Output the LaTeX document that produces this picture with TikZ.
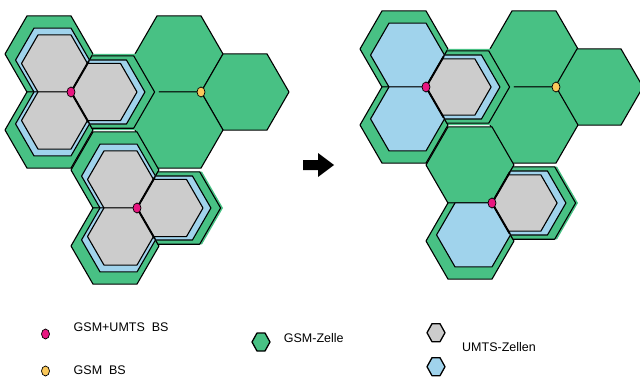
\documentclass[tikz,border=0pt]{standalone}
\usepackage{fontspec}
\setmainfont{Liberation Sans}
\usetikzlibrary{shapes.geometric}
\definecolor{gsmgreen}{RGB}{72,193,132}
\definecolor{umtsblue}{RGB}{160,211,236}
\definecolor{umtsgray}{RGB}{204,204,204}
\definecolor{bspink}{RGB}{232,22,128}
\definecolor{bsyellow}{RGB}{250,200,90}
\newcommand\hexat[3]{({(#1)+(#3)},{#2}) -- ({(#1)+0.5*(#3)},{(#2)+0.866*(#3)}) -- ({(#1)-0.5*(#3)},{(#2)+0.866*(#3)}) -- ({(#1)-(#3)},{#2}) -- ({(#1)-0.5*(#3)},{(#2)-0.866*(#3)}) -- ({(#1)+0.5*(#3)},{(#2)-0.866*(#3)}) -- cycle}
\newcommand\subhex[6]{%
  \pgfmathsetmacro\hcx{#4+#6*((#2)-(#4))}%
  \pgfmathsetmacro\hcy{#5+#6*((#3)-(#5))}%
  \pgfmathsetmacro\hrr{#6*44}%
  \path[#1] \hexat{\hcx}{\hcy}{\hrr};}
\newcommand\leghex[2]{({(#1)+9},{#2}) -- ({(#1)+4},{(#2)+9}) -- ({(#1)-4},{(#2)+9}) -- ({(#1)-9},{#2}) -- ({(#1)-4},{(#2)-9}) -- ({(#1)+4},{(#2)-9}) -- cycle}
\begin{document}
\begin{tikzpicture}[x=1pt,y=-1pt,
  cellgsm/.style={fill=gsmgreen,draw=black,line width=1.1pt,line join=round},
  cellfill/.style={fill=gsmgreen},
  cellblue/.style={fill=umtsblue,draw=black,line width=1.1pt,line join=round},
  cellgray/.style={fill=umtsgray,draw=black,line width=1.1pt,line join=round},
  ray/.style={line width=2pt,line cap=round},
  bs/.style={ellipse,draw=black,line width=0.7pt,minimum width=8pt,minimum height=10pt,inner sep=0pt},
  bsleg/.style={bs,minimum width=8pt,minimum height=10pt},
  leghexs/.style={draw=black,line width=1.3pt,line join=round},
  legtext/.style={anchor=west,font=\fontsize{12.5}{15}\selectfont,inner sep=0pt}]
\useasboundingbox (0,0) rectangle (640,380);
\clip (0,0) rectangle (640,380);

% ===== left diagram =====
% GSM-only cells
\path[cellgsm] \hexat{179}{54}{44};
\path[cellgsm] \hexat{245}{92}{44};
\path[cellgsm] \hexat{179}{130}{44};
% cluster A
\path[cellgsm] \hexat{49}{54}{44};
\path[cellfill] \hexat{115}{92}{44};
\path[cellgsm] \hexat{49}{130}{44};
\subhex{cellgsm}{115}{92}{71}{92}{0.95}
\subhex{cellblue}{49}{54}{71}{92}{0.84}
\subhex{cellblue}{115}{92}{71}{92}{0.84}
\subhex{cellblue}{49}{130}{71}{92}{0.84}
\subhex{cellgray}{49}{54}{71}{92}{0.75}
\subhex{cellgray}{115}{92}{71}{92}{0.75}
\subhex{cellgray}{49}{130}{71}{92}{0.75}
\coordinate (cA) at (71,92);
\draw[ray] (cA) -- ++(17.6,-30.4);
\draw[ray] (cA) -- ++(17.6,30.4);
% cluster B
\path[cellgsm] \hexat{115}{170}{44};
\path[cellfill] \hexat{181}{208}{42};
\path[cellgsm] \hexat{115}{246}{44};
\subhex{cellgsm}{181}{208}{137}{208}{0.95}
\subhex{cellblue}{115}{170}{137}{208}{0.84}
\subhex{cellblue}{181}{208}{137}{208}{0.84}
\subhex{cellblue}{115}{246}{137}{208}{0.84}
\subhex{cellgray}{115}{170}{137}{208}{0.75}
\subhex{cellgray}{181}{208}{137}{208}{0.75}
\subhex{cellgray}{115}{246}{137}{208}{0.75}
\coordinate (cB) at (137,208);
\draw[ray] (cB) -- ++(17.6,-30.4);
\draw[ray] (cB) -- ++(17.6,30.4);
\node[bs,fill=bspink] (bsA) at (cA) {};
\node[bs,fill=bspink] (bsB) at (cB) {};
\node[bs,fill=bsyellow] (bsG) at (201,92) {};

% ===== arrow =====
\fill[black] (303,160) -- (318,160) -- (318,153) -- (334,165) -- (318,177) -- (318,170) -- (303,170) -- cycle;

% ===== right diagram =====
\begin{scope}[shift={(355,-5)}]
\path[cellgsm] \hexat{179}{54}{44};
\path[cellgsm] \hexat{244}{92}{44};
\path[cellgsm] \hexat{179}{130}{44};
% cluster A'
\path[cellgsm] \hexat{49}{54}{44};
\path[cellfill] \hexat{115}{92}{44};
\path[cellgsm] \hexat{49}{130}{44};
\subhex{cellgsm}{115}{92}{71}{92}{0.95}
\subhex{cellblue}{49}{54}{71}{92}{0.84}
\subhex{cellblue}{115}{92}{71}{92}{0.84}
\subhex{cellblue}{49}{130}{71}{92}{0.84}
\subhex{cellgray}{115}{92}{71}{92}{0.74}
\coordinate (cA2) at (71,92);
\draw[ray] (cA2) -- ++(17.6,-30.4);
\draw[ray] (cA2) -- ++(17.6,30.4);
% cluster B'
\path[cellgsm] \hexat{115}{170}{44};
\path[cellfill] \hexat{181}{208}{42};
\path[cellgsm] \hexat{115}{246}{44};
\subhex{cellgsm}{181}{208}{137}{208}{0.95}
\subhex{cellblue}{181}{208}{137}{208}{0.84}
\subhex{cellblue}{115}{246}{137}{208}{0.84}
\subhex{cellgray}{181}{208}{137}{208}{0.74}
\coordinate (cB2) at (137,208);
\draw[ray] (cB2) -- ++(17.6,-30.4);
\draw[ray] (cB2) -- ++(17.6,30.4);
\node[bs,fill=bspink] (bsA2) at (cA2) {};
\node[bs,fill=bspink] (bsB2) at (cB2) {};
\node[bs,fill=bsyellow] (bsG2) at (201,92) {};
\end{scope}

% ===== legend =====
\node[bsleg,fill=bspink] (lgpink) at (45.5,334) {};
\node[bsleg,fill=bsyellow] (lgyellow) at (45.5,371) {};
\node[legtext] (t1) at (73.5,326.7) {GSM+UMTS\ \ BS};
\node[legtext] (t2) at (73.5,370) {GSM\ \ BS};
\path[leghexs,fill=gsmgreen] \leghex{261}{342};
\node[legtext] (t3) at (283.7,338.3) {GSM-Zelle};
\path[leghexs,fill=umtsgray] \leghex{436}{332.7};
\path[leghexs,fill=umtsblue] \leghex{436}{366.7};
\node[legtext] (t4) at (462,346.7) {UMTS-Zellen};
\end{tikzpicture}
\end{document}
